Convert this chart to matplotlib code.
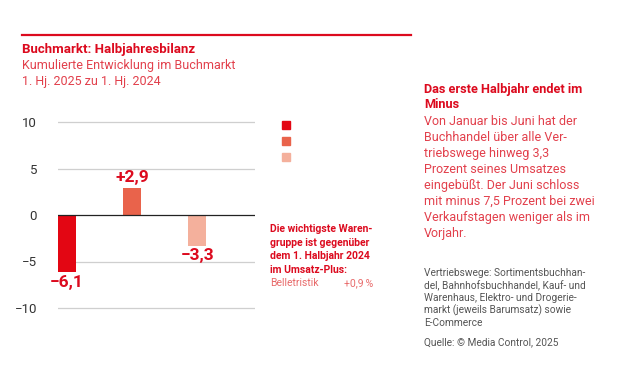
import matplotlib
matplotlib.use("Agg")
import matplotlib.pyplot as plt
from matplotlib.patches import Rectangle

plt.rcParams['font.family'] = ['Roboto', 'DejaVu Sans']

# data
categories = ["A", "B", "C"]
values = [-6.1, 2.9, -3.3]
value_labels = ["\u22126,1", "+2,9", "\u22123,3"]
bar_colors = ["#E30613", "#E9634B", "#F4B09C"]
yticks = [10, 5, 0, -5, -10]
ytick_labels = ["10", "5", "0", "\u22125", "\u221210"]

RED = "#DC0A1E"
LRED = "#E2404C"
GRAY = "#555555"

W, H = 630, 370
fig = plt.figure(figsize=(6.3, 3.7), dpi=100)

def fx(x):
    return x / W

def fy(y):
    return 1 - y / H

# top rule
fig.add_artist(plt.Line2D([fx(22), fx(411)], [fy(35), fy(35)], color=RED, lw=1.6))

fig.text(fx(22), fy(50), "Buchmarkt: Halbjahresbilanz", color=RED, fontsize=9.5, fontweight="bold", va="center")
fig.text(fx(22), fy(66), "Kumulierte Entwicklung im Buchmarkt", color=LRED, fontsize=9, va="center")
fig.text(fx(22), fy(82), "1. Hj. 2025 zu 1. Hj. 2024", color=LRED, fontsize=9, va="center")

# axes
ylo, yhi = -11, 11
px_per_unit = 9.3
top_px = 215 - yhi * px_per_unit
bot_px = 215 - ylo * px_per_unit
ax = fig.add_axes([fx(58), fy(bot_px), fx(255) - fx(58), (bot_px - top_px) / H])
xpos = list(range(len(values)))
bw = 18 / 65
ax.bar(xpos, values, width=bw, color=bar_colors, zorder=3)
ax.set_xlim(-bw / 2, 2.89)
ax.set_ylim(ylo, yhi)
for t in yticks:
    if t == 0:
        ax.axhline(0, color="#222222", lw=0.9, zorder=4)
    else:
        ax.axhline(t, color="#CFCFCF", lw=0.9, zorder=1)
ax.set_yticks(yticks)
ax.set_yticklabels(ytick_labels, fontsize=9.5, color="#333333")
ax.tick_params(axis="y", length=0, pad=15)
ax.set_xticks([])
for s in ax.spines.values():
    s.set_visible(False)
ax.patch.set_alpha(0)

for i, (v, lab) in enumerate(zip(values, value_labels)):
    if v >= 0:
        ax.annotate(lab, (xpos[i], v), xytext=(0, 2), textcoords="offset points",
                    ha="center", va="bottom", color=RED, fontsize=12.5, fontweight="bold")
    else:
        ax.annotate(lab, (xpos[i], v), xytext=(0, -2), textcoords="offset points",
                    ha="center", va="top", color=RED, fontsize=12.5, fontweight="bold")

# legend squares (no labels)
for i, c in enumerate(bar_colors):
    fig.add_artist(Rectangle((fx(282), fy(129 + 16 * i)), 8 / W, 8 / H, color=c, transform=fig.transFigure))

# annotation
ann = ["Die wichtigste Waren-", "gruppe ist gegenüber", "dem 1. Halbjahr 2024", "im Umsatz-Plus:"]
for i, l in enumerate(ann):
    fig.text(fx(270), fy(229 + 13.6 * i), l, color=RED, fontsize=7.5, fontweight="bold", va="center")
fig.text(fx(270), fy(283), "Belletristik", color="#E86A6A", fontsize=7.5, va="center")
fig.text(fx(373), fy(283), "+0,9\u2009%", color="#E86A6A", fontsize=7.5, va="center", ha="right")

# right column
fig.text(fx(424), fy(89), "Das erste Halbjahr endet im", color=RED, fontsize=9.2, fontweight="bold", va="center")
fig.text(fx(424), fy(105), "Minus", color=RED, fontsize=9.2, fontweight="bold", va="center")
body = ["Von Januar bis Juni hat der", "Buchhandel über alle Ver-", "triebswege hinweg 3,3",
        "Prozent seines Umsatzes", "eingebüßt. Der Juni schloss", "mit minus 7,5 Prozent bei zwei",
        "Verkaufstagen weniger als im", "Vorjahr."]
for i, l in enumerate(body):
    fig.text(fx(424), fy(121.5 + 16 * i), l, color=LRED, fontsize=9, va="center")

foot = ["Vertriebswege: Sortimentsbuchhan-", "del, Bahnhofsbuchhandel, Kauf- und",
        "Warenhaus, Elektro- und Drogerie-", "markt (jeweils Barumsatz) sowie", "E-Commerce"]
for i, l in enumerate(foot):
    fig.text(fx(424), fy(273 + 12.5 * i), l, color=GRAY, fontsize=7.3, va="center")
fig.text(fx(424), fy(342), "Quelle: \u00a9 Media Control, 2025", color=GRAY, fontsize=7.3, va="center")

fig.savefig("out.png", dpi=100)
